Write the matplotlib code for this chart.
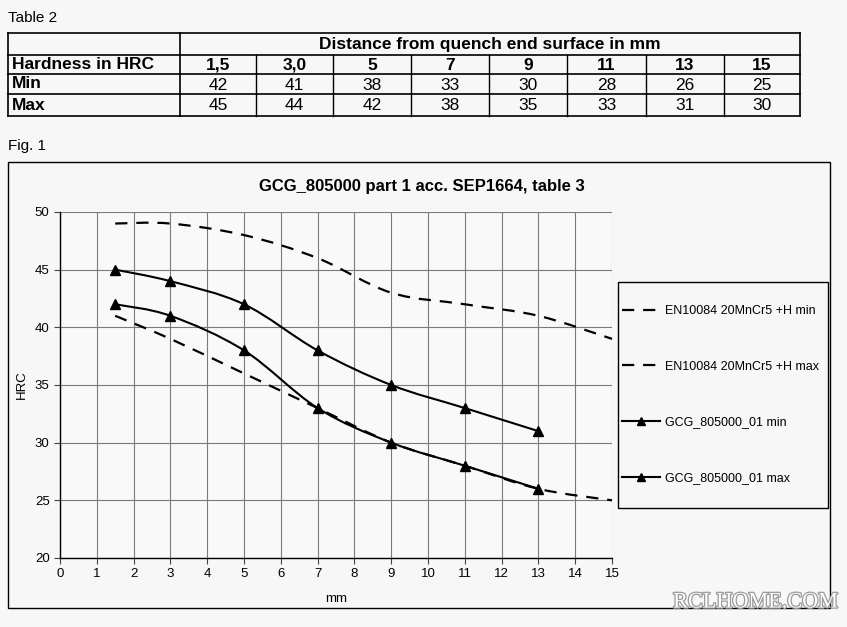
import matplotlib
matplotlib.use("Agg")
import matplotlib.pyplot as plt
from matplotlib.path import Path
from matplotlib.patches import PathPatch, Rectangle
from matplotlib.lines import Line2D
from matplotlib.transforms import Affine2D
import matplotlib.patheffects as pe

plt.rcParams['font.family'] = ['Liberation Sans', 'DejaVu Sans']

# Table 2 data
table_cols = ["1,5", "3,0", "5", "7", "9", "11", "13", "15"]
table_min = [42, 41, 38, 33, 30, 28, 26, 25]
table_max = [45, 44, 42, 38, 35, 33, 31, 30]

# Fig. 1 data
dist_gcg = [1.5, 3, 5, 7, 9, 11, 13]
gcg_min = [42, 41, 38, 33, 30, 28, 26]
gcg_max = [45, 44, 42, 38, 35, 33, 31]

dist_en = [1.5, 3, 5, 7, 9, 11, 13, 15]
en_min = [41, 39, 36, 33, 30, 28, 26, 25]
en_max = [49, 49, 48, 46, 43, 42, 41, 39]

W, H = 847, 627
fig = plt.figure(figsize=(W / 100, H / 100), dpi=100, facecolor='#f7f7f7')
# pixel coords (origin top-left) -> figure
px = Affine2D().scale(1 / W, -1 / H).translate(0, 1) + fig.transFigure


def hline(x0, x1, y, lw=1.0):
    fig.add_artist(Line2D([x0, x1], [y, y], transform=px, color='black', lw=lw))


def vline(x, y0, y1, lw=1.0):
    fig.add_artist(Line2D([x, x], [y0, y1], transform=px, color='black', lw=lw))


def smooth(x, y):
    # excel style smoothed curve as cubic bezier segments
    pts = list(zip(x, y))
    verts = [pts[0]]
    codes = [Path.MOVETO]
    n = len(pts)
    for i in range(n - 1):
        p0 = pts[i - 1] if i > 0 else pts[i]
        p1 = pts[i]
        p2 = pts[i + 1]
        p3 = pts[i + 2] if i + 2 < n else pts[i + 1]
        c1 = (p1[0] + (p2[0] - p0[0]) / 6, p1[1] + (p2[1] - p0[1]) / 6)
        c2 = (p2[0] - (p3[0] - p1[0]) / 6, p2[1] - (p3[1] - p1[1]) / 6)
        verts += [c1, c2, p2]
        codes += [Path.CURVE4] * 3
    return Path(verts, codes)


# ---------------- table ----------------
fig.text(8, 18, "Table 2", transform=px, fontsize=11, va='center', ha='left')
xs = [8, 180, 256, 333, 411, 489, 567, 646, 724, 800]
ys = [33, 55, 74, 94, 116]
for y in ys:
    hline(xs[0], xs[-1], y, lw=1.2)
vline(xs[0], ys[0], ys[-1], lw=1.2)
vline(xs[1], ys[0], ys[-1], lw=1.2)
vline(xs[-1], ys[0], ys[-1], lw=1.2)
for x in xs[2:-1]:
    vline(x, ys[1], ys[-1])

fs_tab = 12.5
fig.text((xs[1] + xs[-1]) / 2, (ys[0] + ys[1]) / 2 + 1, "Distance from quench end surface in mm",
         transform=px, fontsize=fs_tab, fontweight='bold', ha='center', va='center')
row_names = ["Hardness in HRC", "Min", "Max"]
for r, name in enumerate(row_names):
    fig.text(12, (ys[r + 1] + ys[r + 2]) / 2, name, transform=px, fontsize=fs_tab,
             fontweight='bold', ha='left', va='center')
for c in range(len(table_cols)):
    cx = (xs[c + 1] + xs[c + 2]) / 2
    fig.text(cx, (ys[1] + ys[2]) / 2 + 1, table_cols[c], transform=px, fontsize=fs_tab,
             fontweight='bold', ha='center', va='center')
    fig.text(cx, (ys[2] + ys[3]) / 2 + 1, str(table_min[c]), transform=px, fontsize=fs_tab,
             ha='center', va='center')
    fig.text(cx, (ys[3] + ys[4]) / 2 + 1, str(table_max[c]), transform=px, fontsize=fs_tab,
             ha='center', va='center')

# ---------------- figure ----------------
fig.text(8, 146, "Fig. 1", transform=px, fontsize=11, va='center', ha='left')
fig.add_artist(Rectangle((8, 162), 822, 446, transform=px, fill=False, ec='black', lw=1.0))
fig.text(422, 187, "GCG_805000 part 1 acc. SEP1664, table 3", transform=px,
         fontsize=12, fontweight='bold', ha='center', va='center')

ax = fig.add_axes([60 / W, 1 - 558 / H, 552 / W, 346 / H])
ax.set_facecolor('#f9f9f9')
ax.set_xlim(0, 15)
ax.set_ylim(20, 50)
ax.set_xticks(range(0, 16))
ax.set_yticks(range(20, 51, 5))
ax.grid(True, color='#7a7a7a', lw=0.8)
ax.set_axisbelow(True)
for s in ['top', 'right']:
    ax.spines[s].set_visible(False)
for s in ['left', 'bottom']:
    ax.spines[s].set_color('black')
    ax.spines[s].set_linewidth(1.0)
ax.tick_params(labelsize=9.5, length=4, color='#444444')
ax.set_xlabel("mm", fontsize=9.5, labelpad=9)
ax.set_ylabel("HRC", fontsize=9.5, labelpad=5)

dash = (0, (5.5, 4))
ax.add_patch(PathPatch(smooth(dist_en, en_min), fill=False, ec='black', lw=1.6, ls=dash,
                       clip_on=False))
ax.add_patch(PathPatch(smooth(dist_en, en_max), fill=False, ec='black', lw=1.6, ls=dash,
                       clip_on=False))
ax.add_patch(PathPatch(smooth(dist_gcg, gcg_min), fill=False, ec='black', lw=1.5))
ax.add_patch(PathPatch(smooth(dist_gcg, gcg_max), fill=False, ec='black', lw=1.5))
ax.plot(dist_gcg, gcg_min, ls='none', marker='^', ms=7.5, color='black')
ax.plot(dist_gcg, gcg_max, ls='none', marker='^', ms=7.5, color='black')

# legend
fig.add_artist(Rectangle((618, 282), 210, 226, transform=px, fill=False, ec='black', lw=1.0))
handles = [
    Line2D([], [], color='black', lw=1.6, ls=dash),
    Line2D([], [], color='black', lw=1.6, ls=dash),
    Line2D([], [], color='black', lw=1.5, marker='^', ms=6),
    Line2D([], [], color='black', lw=1.5, marker='^', ms=6),
]
labels = ["EN10084 20MnCr5 +H min", "EN10084 20MnCr5 +H max",
          "GCG_805000_01 min", "GCG_805000_01 max"]
fig.legend(handles, labels, loc='center left', bbox_to_anchor=(622 / W, 1 - 394.5 / H),
           frameon=False, fontsize=9, labelspacing=3.5, handlelength=3.0,
           handletextpad=0.45, borderpad=0, borderaxespad=0)

# watermark of the scan
fig.text(838, 603, "RCLHOME.COM", transform=px, fontsize=16, family='Liberation Serif',
         ha='right', va='center', color='white',
         path_effects=[pe.withStroke(linewidth=1.8, foreground='#9a9a9a')])

fig.savefig("out.png", dpi=100, facecolor=fig.get_facecolor())
